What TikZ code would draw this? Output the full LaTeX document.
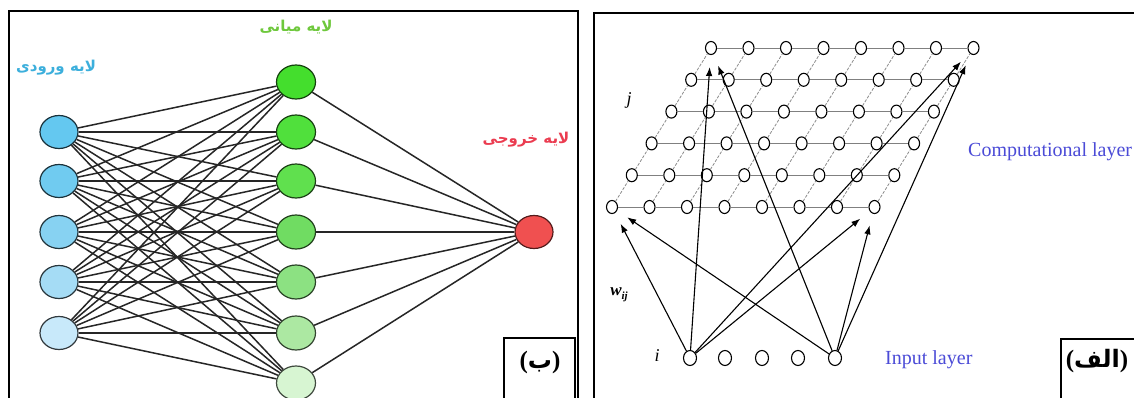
\documentclass[tikz,border=0pt]{standalone}
\usepackage{fontspec}
\setmainfont{Liberation Serif}
\newfontfamily\arabicfont[Script=Arabic]{DejaVu Sans}
\TeXXeTstate=1
\usetikzlibrary{arrows.meta,shapes.geometric}
\definecolor{b1}{RGB}{100,200,240}
\definecolor{b2}{RGB}{112,203,240}
\definecolor{b3}{RGB}{135,210,242}
\definecolor{b4}{RGB}{165,220,245}
\definecolor{b5}{RGB}{200,233,250}
\definecolor{g1}{RGB}{68,222,45}
\definecolor{g2}{RGB}{80,224,60}
\definecolor{g3}{RGB}{96,224,78}
\definecolor{g4}{RGB}{112,220,98}
\definecolor{g5}{RGB}{140,225,130}
\definecolor{g6}{RGB}{172,232,162}
\definecolor{g7}{RGB}{215,245,210}
\definecolor{rednode}{RGB}{240,80,80}
\definecolor{lblblue}{RGB}{60,175,220}
\definecolor{lblgreen}{RGB}{110,200,60}
\definecolor{lblred}{RGB}{235,60,80}
\definecolor{txtblue}{RGB}{75,75,215}
\begin{document}
\begin{tikzpicture}[x=1pt,y=-1pt,
  frame/.style={draw=black,line width=2pt},
  neuron/.style={ellipse,draw,line width=1.2pt,inner sep=0pt,minimum width=38pt,minimum height=33pt},
  link/.style={draw=black!85,line width=1.5pt},
  gnode/.style={ellipse,draw=black,fill=white,line width=1.1pt,inner sep=0pt,minimum width=11pt,minimum height=13pt},
  inode/.style={ellipse,draw=black,fill=white,line width=1.1pt,inner sep=0pt,minimum width=13pt,minimum height=15pt},
  hline/.style={draw=black!50,line width=0.9pt},
  sline/.style={draw=black!45,line width=0.8pt,dash pattern=on 3pt off 1.5pt},
  arr/.style={-{Latex[length=9pt,width=6.5pt]},line width=1.1pt,shorten >=12pt},
  fa/.style={font=\arabicfont\bfseries\fontsize{15}{17}\selectfont},
  tag/.style={font=\arabicfont\bfseries\fontsize{24}{26}\selectfont},
  tagp/.style={font=\rmfamily\bfseries\fontsize{25}{26}\selectfont}
]
\useasboundingbox (0,0) rectangle (1134,398);
\clip (0,0) rectangle (1134,398);
\fill[white] (0,0) rectangle (1134,398);

% ---------------- left panel ----------------
\draw[frame] (9,11) rectangle (578,420);
\draw[frame] (504,338) rectangle (575,420);
\node[tag] (tagb) at (540,362) {{\rmfamily\fontsize{25}{26}\selectfont(}\beginR ب\endR{\rmfamily\fontsize{25}{26}\selectfont)}};

\foreach \i/\y/\c in {1/132/b1,2/181/b2,3/232/b3,4/282/b4,5/333/b5}
  \node[neuron,fill=\c,draw=black!75!\c] (in\i) at (59,\y) {};
\foreach \j/\y/\c in {1/82/g1,2/132/g2,3/181/g3,4/232/g4,5/282/g5,6/333/g6,7/383/g7}
  \node[neuron,fill=\c,draw=black!70!\c,minimum width=39pt,minimum height=34pt] (hd\j) at (296,\y) {};
\node[neuron,fill=rednode,draw=black!65!rednode] (out) at (534,232) {};

\foreach \i in {1,...,5}
  \foreach \j in {1,...,7}
    \draw[link] (in\i) -- (hd\j);
\foreach \j in {1,...,7}
  \draw[link] (hd\j) -- (out);

\node[fa,text=lblblue] (lin) at (56,68) {\beginR لایه ورودی\endR};
\node[fa,text=lblgreen] (lhd) at (296,27) {\beginR لایه میانی\endR};
\node[fa,text=lblred] (lout) at (526,140) {\beginR لایه خروجی\endR};

% ---------------- right panel ----------------
\draw[frame] (594,13) rectangle (1150,420);
\draw[frame] (1061,339) rectangle (1150,420);
\node[tag] (taga) at (1097,361) {{\rmfamily\fontsize{25}{26}\selectfont(}\beginR الف\endR{\rmfamily\fontsize{25}{26}\selectfont)}};

\foreach \r in {1,...,6}
  \foreach \c in {1,...,8}
    \node[gnode] (g\r-\c) at ({711-19.8*(\r-1)+37.5*(\c-1)},{48+31.8*(\r-1)}) {};
\foreach \r in {1,...,6}{
  \foreach \c in {1,...,7}{
    \pgfmathtruncatemacro{\nc}{\c+1}
    \draw[hline] (g\r-\c) -- (g\r-\nc);
  }
}
\foreach \c in {1,...,8}{
  \foreach \r in {1,...,5}{
    \pgfmathtruncatemacro{\nr}{\r+1}
    \draw[sline] (g\nr-\c) -- (g\r-\c);
  }
}

\foreach \k/\x in {1/690,2/725,3/762,4/798,5/835}
  \node[inode] (ip\k) at (\x,358) {};

\foreach \s in {1,5}{
  \draw[arr] (ip\s) -- (g6-1);
  \draw[arr] (ip\s) -- (g1-1);
  \draw[arr] (ip\s) -- (g1-8);
  \draw[arr] (ip\s) -- (g6-8);
}

\node[font=\itshape\fontsize{18}{20}\selectfont] (lj) at (629,100) {j};
\node[font=\itshape\fontsize{18}{20}\selectfont] (li) at (657,356) {i};
\node[font=\bfseries\itshape\fontsize{17}{20}\selectfont] (lw) at (619,295) {w\raisebox{-4pt}{\fontsize{11}{12}\selectfont ij}};
\node[anchor=west,text=txtblue,font=\fontsize{20}{22}\selectfont,inner sep=0pt] (lcomp) at (968,152) {Computational layer};
\node[anchor=west,text=txtblue,font=\fontsize{20}{22}\selectfont,inner sep=0pt] (linp) at (885,360) {Input layer};
\end{tikzpicture}
\end{document}
